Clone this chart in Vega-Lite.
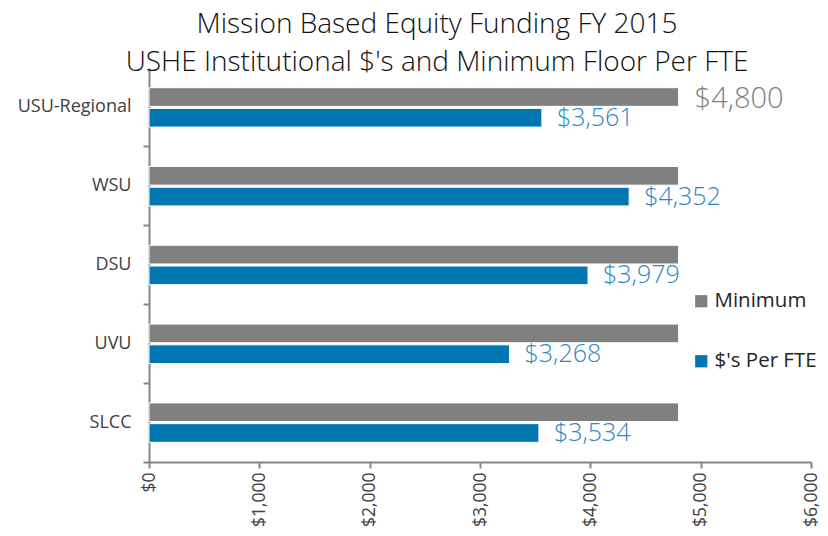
{
  "$schema": "https://vega.github.io/schema/vega-lite/v6.json",
  "width": 662,
  "height": 394,
  "autosize": {"type": "none"},
  "padding": {"left": 149, "top": 68, "right": 17, "bottom": 74},
  "background": "white",
  "config": {"font": "Open Sans", "view": {"stroke": null}},
  "title": {
    "text": ["Mission Based Equity Funding FY 2015", "USHE Institutional $'s and Minimum Floor Per FTE"],
    "fontSize": 28,
    "fontWeight": 300,
    "color": "#111111",
    "anchor": "middle",
    "dx": -43,
    "lineHeight": 38,
    "offset": -9
  },
  "data": {
    "values": [
      {"inst": "USU-Regional", "series": "Minimum", "value": 4800},
      {"inst": "USU-Regional", "series": "$'s Per FTE", "value": 3561},
      {"inst": "WSU", "series": "Minimum", "value": 4800},
      {"inst": "WSU", "series": "$'s Per FTE", "value": 4352},
      {"inst": "DSU", "series": "Minimum", "value": 4800},
      {"inst": "DSU", "series": "$'s Per FTE", "value": 3979},
      {"inst": "UVU", "series": "Minimum", "value": 4800},
      {"inst": "UVU", "series": "$'s Per FTE", "value": 3268},
      {"inst": "SLCC", "series": "Minimum", "value": 4800},
      {"inst": "SLCC", "series": "$'s Per FTE", "value": 3534}
    ]
  },
  "resolve": {"axis": {"y": "independent"}},
  "layer": [
    {
      "mark": {"type": "bar", "stroke": "white", "strokeWidth": 1},
      "encoding": {
        "y": {
          "field": "inst", "type": "nominal",
          "sort": ["USU-Regional", "WSU", "DSU", "UVU", "SLCC"],
          "scale": {"paddingInner": 0.5, "paddingOuter": 0.25},
          "axis": {"title": null, "ticks": false, "labelFontSize": 18, "labelColor": "#404040", "labelPadding": 18, "domainColor": "#868686", "domainWidth": 2}
        },
        "yOffset": {
          "field": "series", "type": "nominal",
          "scale": {"domain": ["Minimum", "$'s Per FTE"], "paddingInner": 0.1}
        },
        "x": {
          "field": "value", "type": "quantitative",
          "scale": {"domain": [0, 6000], "nice": false},
          "axis": {"title": null, "values": [0, 1000, 2000, 3000, 4000, 5000, 6000], "format": "$,.0f", "labelAngle": -90, "labelFontSize": 17.5, "labelColor": "#404040", "labelPadding": 4, "tickColor": "#868686", "tickSize": 6, "tickWidth": 2, "domainColor": "#868686", "domainWidth": 2, "grid": false}
        },
        "color": {
          "field": "series", "type": "nominal",
          "scale": {"domain": ["Minimum", "$'s Per FTE"], "range": ["#808080", "#0077B0"]},
          "legend": {"title": null, "orient": "none", "legendX": 542, "legendY": 223, "padding": 0, "symbolType": "square", "symbolSize": 150, "symbolStrokeWidth": 0, "labelFontSize": 20.5, "labelColor": "#262626", "labelOffset": 3, "rowPadding": 39}
        }
      }
    },
    {
      "transform": [{"filter": "datum.series === \"$'s Per FTE\""}],
      "mark": {"type": "text", "align": "left", "baseline": "middle", "dx": 15, "fontSize": 25, "fontWeight": 300, "color": "#2A88C6"},
      "encoding": {
        "y": {
          "field": "inst", "type": "nominal",
          "sort": ["USU-Regional", "WSU", "DSU", "UVU", "SLCC"],
          "axis": {"title": null, "orient": "left", "labels": false, "domain": false, "ticks": true, "tickSize": 6, "tickWidth": 2, "tickColor": "#868686", "bandPosition": 1.5}
        },
        "yOffset": {"field": "series", "type": "nominal"},
        "x": {"field": "value", "type": "quantitative"},
        "text": {"field": "value", "type": "quantitative", "format": "$,.0f"}
      }
    },
    {
      "transform": [{"filter": "datum.series === 'Minimum' && datum.inst === 'USU-Regional'"}],
      "mark": {"type": "text", "align": "left", "baseline": "middle", "dx": 16, "dy": 2, "fontSize": 29, "fontWeight": 300, "color": "#808080"},
      "encoding": {
        "y": {
          "field": "inst", "type": "nominal",
          "sort": ["USU-Regional", "WSU", "DSU", "UVU", "SLCC"],
          "axis": null
        },
        "yOffset": {"field": "series", "type": "nominal"},
        "x": {"field": "value", "type": "quantitative"},
        "text": {"field": "value", "type": "quantitative", "format": "$,.0f"}
      }
    }
  ]
}
